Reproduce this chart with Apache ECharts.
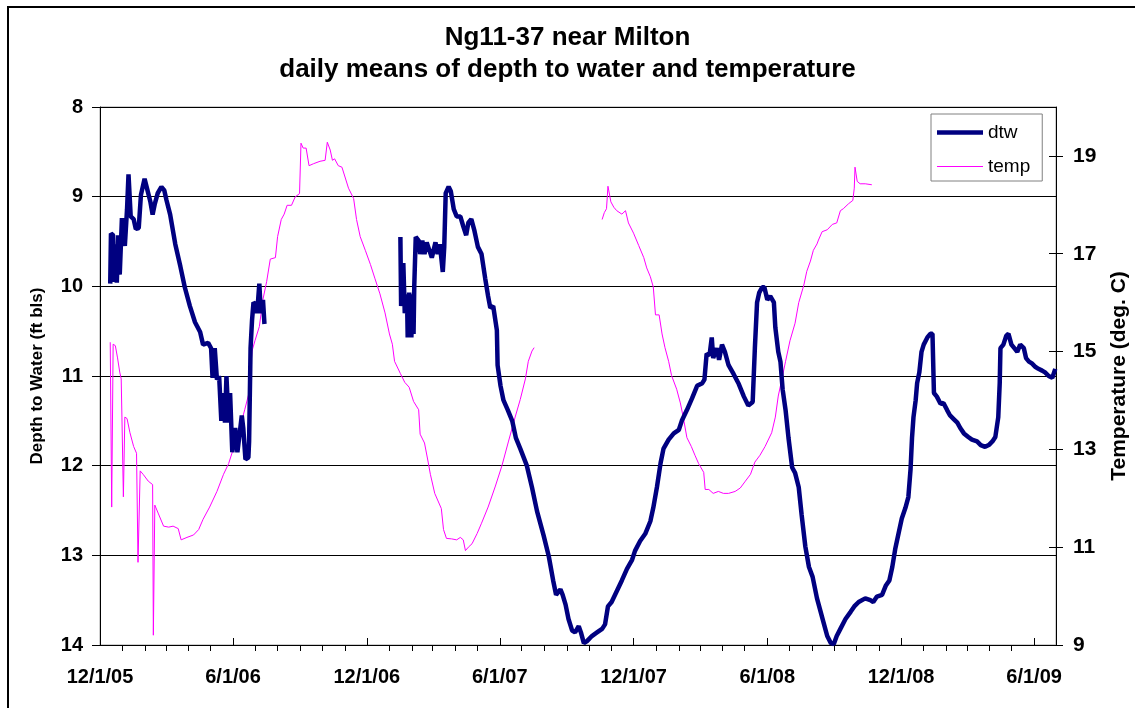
<!DOCTYPE html>
<html>
<head>
<meta charset="utf-8">
<title>Ng11-37 near Milton</title>
<script src="https://cdn.jsdelivr.net/npm/echarts@6/dist/echarts.min.js"></script>
<style>
    html, body { margin: 0; padding: 0; background: #fff; overflow: hidden; }
    #frame { position: absolute; left: 7px; top: 6px; width: 1300px; height: 900px; border-left: 2px solid #000; border-top: 2px solid #000; }
    #chart { position: absolute; left: 0; top: 0; width: 1135px; height: 708px; }
</style>
</head>
<body>
<div id="frame"></div>
<div id="chart"></div>
<script>
// depth to water (ft bls), daily means; '-' = no record
var dtwData = [
    ['2005-12-15', 9.97], ['2005-12-16', 9.41], ['2005-12-19', 9.43], ['2005-12-20', 9.95], ['2005-12-23', 9.53],
    ['2005-12-24', 9.96], ['2005-12-26', 9.43], ['2005-12-28', 9.87], ['2005-12-31', 9.24],
    ['2006-01-02', 9.22], ['2006-01-04', 9.55], ['2006-01-07', 9.14], ['2006-01-09', 8.75], ['2006-01-11', 8.77],
    ['2006-01-12', 9.22], ['2006-01-16', 9.25], ['2006-01-19', 9.36], ['2006-01-23', 9.35], ['2006-01-26', 8.98],
    ['2006-01-31', 8.80], ['2006-02-04', 8.93], ['2006-02-08', 9.06], ['2006-02-11', 9.20], ['2006-02-14', 9.08],
    ['2006-02-18', 8.96], ['2006-02-23', 8.89], ['2006-02-27', 8.93], ['2006-03-02', 9.04], ['2006-03-07', 9.20],
    ['2006-03-14', 9.53], ['2006-03-21', 9.78], ['2006-03-27', 10.01], ['2006-04-03', 10.22], ['2006-04-10', 10.40],
    ['2006-04-17', 10.51], ['2006-04-21', 10.65], ['2006-04-28', 10.63], ['2006-05-02', 10.69], ['2006-05-04', 11.02],
    ['2006-05-07', 10.69], ['2006-05-10', 11.04], ['2006-05-13', 11.00], ['2006-05-16', 11.50], ['2006-05-18', 11.19],
    ['2006-05-21', 11.52], ['2006-05-23', 11.00], ['2006-05-26', 11.52], ['2006-05-28', 11.19], ['2006-05-31', 11.85],
    ['2006-06-04', 11.58], ['2006-06-07', 11.85], ['2006-06-11', 11.58], ['2006-06-13', 11.44], ['2006-06-15', 11.58],
    ['2006-06-18', 11.93], ['2006-06-22', 11.91], ['2006-06-23', 11.73], ['2006-06-25', 10.69], ['2006-06-27', 10.38],
    ['2006-06-29', 10.18], ['2006-07-02', 10.20], ['2006-07-04', 10.30], ['2006-07-07', 9.97], ['2006-07-09', 10.30],
    ['2006-07-12', 10.15], ['2006-07-14', 10.42],
    ['2006-10-01', '-'],
    ['2007-01-16', 9.45], ['2007-01-17', 10.22], ['2007-01-20', 9.74], ['2007-01-22', 10.30], ['2007-01-25', 10.09],
    ['2007-01-26', 10.57], ['2007-01-28', 10.07], ['2007-01-31', 10.57], ['2007-02-02', 10.09], ['2007-02-03', 10.53],
    ['2007-02-04', 9.99], ['2007-02-06', 9.45], ['2007-02-10', 9.49], ['2007-02-12', 9.64], ['2007-02-15', 9.49],
    ['2007-02-18', 9.64], ['2007-02-21', 9.51], ['2007-02-28', 9.68], ['2007-03-05', 9.51], ['2007-03-08', 9.64],
    ['2007-03-11', 9.53], ['2007-03-15', 9.84], ['2007-03-17', 9.56], ['2007-03-19', 8.96], ['2007-03-23', 8.89],
    ['2007-03-26', 8.94], ['2007-03-30', 9.14], ['2007-04-03', 9.22], ['2007-04-08', 9.22], ['2007-04-12', 9.33],
    ['2007-04-16', 9.43], ['2007-04-19', 9.29], ['2007-04-23', 9.25], ['2007-04-27', 9.37], ['2007-05-02', 9.56],
    ['2007-05-07', 9.64], ['2007-05-12', 9.91], ['2007-05-16', 10.11], ['2007-05-19', 10.24], ['2007-05-23', 10.22],
    ['2007-05-28', 10.49], ['2007-05-29', 10.88], ['2007-06-02', 11.11], ['2007-06-06', 11.27], ['2007-06-12', 11.38],
    ['2007-06-18', 11.50], ['2007-06-23', 11.69], ['2007-06-29', 11.81], ['2007-07-08', 12.00], ['2007-07-15', 12.24],
    ['2007-07-22', 12.51], ['2007-07-31', 12.78], ['2007-08-07', 13.01], ['2007-08-13', 13.28], ['2007-08-17', 13.44],
    ['2007-08-23', 13.38], ['2007-08-26', 13.44], ['2007-08-30', 13.55], ['2007-09-03', 13.71], ['2007-09-08', 13.84],
    ['2007-09-12', 13.86], ['2007-09-17', 13.79], ['2007-09-20', 13.86], ['2007-09-24', 13.98], ['2007-09-28', 13.96],
    ['2007-10-05', 13.90], ['2007-10-12', 13.86], ['2007-10-19', 13.82], ['2007-10-23', 13.77], ['2007-10-27', 13.57],
    ['2007-11-01', 13.52], ['2007-11-08', 13.40], ['2007-11-15', 13.28], ['2007-11-22', 13.15], ['2007-11-29', 13.05],
    ['2007-12-03', 12.95], ['2007-12-10', 12.84], ['2007-12-17', 12.76], ['2007-12-24', 12.62], ['2007-12-28', 12.47],
    ['2008-01-02', 12.24], ['2008-01-07', 11.97], ['2008-01-11', 11.81], ['2008-01-18', 11.71], ['2008-01-25', 11.64],
    ['2008-02-01', 11.60], ['2008-02-05', 11.50], ['2008-02-12', 11.38], ['2008-02-19', 11.25], ['2008-02-26', 11.11],
    ['2008-03-04', 11.08], ['2008-03-07', 11.04], ['2008-03-10', 10.75], ['2008-03-14', 10.77], ['2008-03-17', 10.57],
    ['2008-03-19', 10.80], ['2008-03-24', 10.69], ['2008-03-27', 10.82], ['2008-03-31', 10.65], ['2008-04-04', 10.73],
    ['2008-04-09', 10.88], ['2008-04-16', 10.98], ['2008-04-23', 11.09], ['2008-04-30', 11.23], ['2008-05-06', 11.33],
    ['2008-05-12', 11.29], ['2008-05-15', 10.69], ['2008-05-18', 10.18], ['2008-05-21', 10.07], ['2008-05-25', 10.01],
    ['2008-05-28', 10.01], ['2008-06-01', 10.15], ['2008-06-05', 10.11], ['2008-06-10', 10.18], ['2008-06-12', 10.46],
    ['2008-06-16', 10.73], ['2008-06-19', 10.84], ['2008-06-22', 11.15], ['2008-06-26', 11.38], ['2008-06-30', 11.69],
    ['2008-07-05', 12.02], ['2008-07-09', 12.08], ['2008-07-14', 12.24], ['2008-07-18', 12.55], ['2008-07-23', 12.90],
    ['2008-07-28', 13.13], ['2008-08-02', 13.24], ['2008-08-08', 13.48], ['2008-08-12', 13.60], ['2008-08-17', 13.75],
    ['2008-08-22', 13.90], ['2008-08-27', 13.98], ['2008-08-31', 13.99], ['2008-09-04', 13.90], ['2008-09-09', 13.82],
    ['2008-09-16', 13.71], ['2008-09-23', 13.63], ['2008-09-28', 13.57], ['2008-10-04', 13.52], ['2008-10-13', 13.48],
    ['2008-10-20', 13.50], ['2008-10-24', 13.52], ['2008-10-29', 13.46], ['2008-11-05', 13.44], ['2008-11-10', 13.34],
    ['2008-11-15', 13.28], ['2008-11-19', 13.13], ['2008-11-23', 12.93], ['2008-11-28', 12.74], ['2008-12-02', 12.59],
    ['2008-12-07', 12.47], ['2008-12-11', 12.35], ['2008-12-14', 12.04], ['2008-12-16', 11.69], ['2008-12-18', 11.46],
    ['2008-12-21', 11.27], ['2008-12-23', 11.08], ['2008-12-26', 10.96], ['2008-12-29', 10.73], ['2009-01-01', 10.65],
    ['2009-01-06', 10.57], ['2009-01-10', 10.53], ['2009-01-13', 10.53], ['2009-01-15', 11.19], ['2009-01-19', 11.23],
    ['2009-01-24', 11.31], ['2009-01-28', 11.30], ['2009-02-02', 11.38], ['2009-02-06', 11.44], ['2009-02-11', 11.48],
    ['2009-02-16', 11.52], ['2009-02-20', 11.58], ['2009-02-25', 11.64], ['2009-03-03', 11.68], ['2009-03-08', 11.71],
    ['2009-03-15', 11.73], ['2009-03-20', 11.77], ['2009-03-26', 11.79], ['2009-03-31', 11.77], ['2009-04-05', 11.73],
    ['2009-04-09', 11.68], ['2009-04-13', 11.46], ['2009-04-15', 11.08], ['2009-04-16', 10.69], ['2009-04-20', 10.65],
    ['2009-04-24', 10.55], ['2009-04-27', 10.53], ['2009-05-01', 10.65], ['2009-05-05', 10.69], ['2009-05-09', 10.73],
    ['2009-05-13', 10.65], ['2009-05-18', 10.69], ['2009-05-21', 10.80], ['2009-05-25', 10.84], ['2009-05-29', 10.86],
    ['2009-06-03', 10.90], ['2009-06-07', 10.92], ['2009-06-12', 10.94], ['2009-06-16', 10.96], ['2009-06-21', 11.00],
    ['2009-06-26', 11.02], ['2009-06-30', 10.92]
];
// water temperature (deg. C), daily means
var tempData = [
    ['2005-12-15', 15.19], ['2005-12-17', 11.82], ['2005-12-19', 15.15], ['2005-12-22', 15.12], ['2005-12-25', 14.87],
    ['2005-12-28', 14.58], ['2005-12-30', 14.44], ['2005-12-31', 13.66], ['2006-01-02', 12.03], ['2006-01-04', 13.66],
    ['2006-01-07', 13.63], ['2006-01-11', 13.34], ['2006-01-16', 13.06], ['2006-01-20', 12.92], ['2006-01-22', 10.69],
    ['2006-01-25', 12.56], ['2006-01-29', 12.49], ['2006-02-05', 12.35], ['2006-02-11', 12.28], ['2006-02-12', 9.20],
    ['2006-02-14', 11.86], ['2006-02-19', 11.68], ['2006-02-26', 11.43], ['2006-03-05', 11.41], ['2006-03-11', 11.43],
    ['2006-03-18', 11.38], ['2006-03-22', 11.15], ['2006-03-30', 11.20], ['2006-04-08', 11.25], ['2006-04-15', 11.36],
    ['2006-04-21', 11.57], ['2006-04-30', 11.82], ['2006-05-10', 12.14], ['2006-05-19', 12.49], ['2006-05-26', 12.71],
    ['2006-06-01', 12.99], ['2006-06-08', 13.31], ['2006-06-17', 13.81], ['2006-06-23', 14.16], ['2006-06-27', 15.01],
    ['2006-07-01', 15.22], ['2006-07-07', 15.51], ['2006-07-12', 16.07], ['2006-07-17', 16.43], ['2006-07-22', 16.89],
    ['2006-07-29', 16.92], ['2006-08-01', 17.35], ['2006-08-06', 17.70], ['2006-08-10', 17.81], ['2006-08-14', 17.99],
    ['2006-08-20', 17.99], ['2006-08-25', 18.16], ['2006-08-31', 18.23], ['2006-09-02', 19.26], ['2006-09-05', 19.16],
    ['2006-09-09', 19.16], ['2006-09-13', 18.80], ['2006-09-19', 18.84], ['2006-09-28', 18.89], ['2006-10-05', 18.91],
    ['2006-10-08', 19.28], ['2006-10-12', 19.12], ['2006-10-15', 18.91], ['2006-10-18', 18.94], ['2006-10-23', 18.80],
    ['2006-10-28', 18.77], ['2006-11-06', 18.34], ['2006-11-13', 18.13], ['2006-11-17', 17.70], ['2006-11-22', 17.35],
    ['2006-11-29', 17.07], ['2006-12-06', 16.78], ['2006-12-12', 16.50], ['2006-12-19', 16.18], ['2006-12-26', 15.79],
    ['2007-01-01', 15.36], ['2007-01-05', 15.15], ['2007-01-08', 14.80], ['2007-01-16', 14.55], ['2007-01-22', 14.37],
    ['2007-01-28', 14.27], ['2007-02-03', 13.98], ['2007-02-10', 13.81], ['2007-02-12', 13.31], ['2007-02-18', 13.13],
    ['2007-02-23', 12.74], ['2007-02-26', 12.49], ['2007-03-04', 12.10], ['2007-03-13', 11.79], ['2007-03-16', 11.36],
    ['2007-03-20', 11.18], ['2007-03-27', 11.17], ['2007-04-03', 11.15], ['2007-04-08', 11.20], ['2007-04-12', 11.15],
    ['2007-04-15', 10.93], ['2007-04-19', 11.00], ['2007-04-24', 11.07], ['2007-05-01', 11.28], ['2007-05-07', 11.49],
    ['2007-05-16', 11.82], ['2007-05-26', 12.25], ['2007-06-04', 12.67], ['2007-06-13', 13.17], ['2007-06-22', 13.66],
    ['2007-06-29', 14.02], ['2007-07-06', 14.44], ['2007-07-10', 14.80], ['2007-07-15', 15.01], ['2007-07-18', 15.08],
    ['2007-09-01', '-'],
    ['2007-10-19', 17.70], ['2007-10-22', 17.84], ['2007-10-25', 17.92], ['2007-10-27', 18.38], ['2007-10-29', 18.38],
    ['2007-10-31', 18.06], ['2007-11-04', 17.95], ['2007-11-08', 17.88], ['2007-11-15', 17.81], ['2007-11-20', 17.88],
    ['2007-11-24', 17.63], ['2007-12-01', 17.42], ['2007-12-08', 17.17], ['2007-12-15', 16.92], ['2007-12-19', 16.71],
    ['2007-12-24', 16.53], ['2007-12-28', 16.32], ['2007-12-31', 15.75], ['2008-01-05', 15.75], ['2008-01-09', 15.36],
    ['2008-01-13', 15.08], ['2008-01-18', 14.80], ['2008-01-22', 14.51], ['2008-01-29', 14.23], ['2008-02-03', 13.95],
    ['2008-02-07', 13.66], ['2008-02-12', 13.24], ['2008-02-18', 13.06], ['2008-02-23', 12.88], ['2008-02-28', 12.71],
    ['2008-03-06', 12.53], ['2008-03-08', 12.18], ['2008-03-13', 12.18], ['2008-03-19', 12.10], ['2008-03-26', 12.14],
    ['2008-04-02', 12.10], ['2008-04-09', 12.10], ['2008-04-18', 12.14], ['2008-04-25', 12.21], ['2008-05-02', 12.35],
    ['2008-05-09', 12.49], ['2008-05-15', 12.74], ['2008-05-22', 12.88], ['2008-05-29', 13.06], ['2008-06-07', 13.34],
    ['2008-06-12', 13.66], ['2008-06-16', 14.09], ['2008-06-21', 14.44], ['2008-06-26', 14.80], ['2008-07-02', 15.22],
    ['2008-07-09', 15.58], ['2008-07-14', 16.00], ['2008-07-21', 16.36], ['2008-07-25', 16.64], ['2008-07-30', 16.85],
    ['2008-08-03', 17.07], ['2008-08-08', 17.20], ['2008-08-10', 17.28], ['2008-08-15', 17.45], ['2008-08-22', 17.49],
    ['2008-08-29', 17.60], ['2008-09-04', 17.63], ['2008-09-09', 17.88], ['2008-09-13', 17.92], ['2008-09-20', 18.02],
    ['2008-09-26', 18.09], ['2008-09-28', 18.34], ['2008-09-29', 18.77], ['2008-10-02', 18.48], ['2008-10-06', 18.43],
    ['2008-10-13', 18.43], ['2008-10-22', 18.41]
];
// x axis: labelled dates (every six months) and the monthly minor ticks between them
var majorDates = ['2005-12-01', '2006-06-01', '2006-12-01', '2007-06-01', '2007-12-01', '2008-06-01', '2008-12-01', '2009-06-01'];
var minorDates = [
    '2006-01-01', '2006-02-01', '2006-03-01', '2006-04-01', '2006-05-01', '2006-07-01', '2006-08-01', '2006-09-01',
    '2006-10-01', '2006-11-01', '2007-01-01', '2007-02-01', '2007-03-01', '2007-04-01', '2007-05-01', '2007-07-01',
    '2007-08-01', '2007-09-01', '2007-10-01', '2007-11-01', '2008-01-01', '2008-02-01', '2008-03-01', '2008-04-01',
    '2008-05-01', '2008-07-01', '2008-08-01', '2008-09-01', '2008-10-01', '2008-11-01', '2009-01-01', '2009-02-01',
    '2009-03-01', '2009-04-01', '2009-05-01'
];
var xStart = '2005-12-01';
var xEnd = '2009-07-01';
// temperature axis labels
var tempTicks = [9, 11, 13, 15, 17, 19];

var font = 'Liberation Sans, Arial, sans-serif';

// yyyy-mm-dd -> ms (UTC), used as the x value
function toTime(s) {
    var p = s.split('-');
    return Date.UTC(+p[0], +p[1] - 1, +p[2]);
}
function toPoints(list) {
    var out = [];
    for (var i = 0; i < list.length; i++) {
        out.push([toTime(list[i][0]), list[i][1]]);
    }
    return out;
}
function dateLabel(val) {
    var d = new Date(val);
    return (d.getUTCMonth() + 1) + '/' + d.getUTCDate() + '/' + String(d.getUTCFullYear()).slice(2);
}

var chart = echarts.init(document.getElementById('chart'), null, {renderer: 'canvas'});
var option = {
    animation: false,
    backgroundColor: 'transparent',
    textStyle: {fontFamily: font},
    title: {
        text: 'Ng11-37 near Milton\ndaily means of depth to water and temperature',
        left: 'center',
        top: 17,
        textStyle: {fontFamily: font, fontSize: 26, fontWeight: 'bold', color: '#000', lineHeight: 32}
    },
    legend: {
        orient: 'vertical',
        left: 931,
        top: 114,
        padding: [9, 12, 5, 6],
        itemWidth: 46,
        itemHeight: 14,
        itemGap: 15,
        backgroundColor: '#fff',
        borderColor: '#808080',
        borderWidth: 1,
        textStyle: {fontFamily: font, fontSize: 19, color: '#000'},
        // plain line keys, thick for dtw and thin for temp
        data: [
            {name: 'dtw', icon: 'path://M0,0 L46,0 L46,4.5 L0,4.5 Z'},
            {name: 'temp', icon: 'path://M0,0 L46,0 L46,1 L0,1 Z'}
        ]
    },
    grid: {
        left: 100,
        right: 79,
        top: 107,
        bottom: 63,
        // keep the plot box fixed; the axis titles may sit near the page edge
        outerBoundsMode: 'none',
        show: true,
        borderColor: '#a0a0a0',
        borderWidth: 1,
        backgroundColor: '#fff'
    },
    xAxis: [
        {
            // day axis in ms; labelled every six months
            type: 'value',
            position: 'bottom',
            min: toTime(xStart),
            max: toTime(xEnd),
            axisLine: {show: true, lineStyle: {color: '#000', width: 1}},
            axisTick: {show: true, inside: true, length: 7, lineStyle: {color: '#000'},
                customValues: majorDates.map(toTime)},
            axisLabel: {show: true, margin: 22, fontFamily: font, fontSize: 20, fontWeight: 'bold', color: '#000',
                customValues: majorDates.map(toTime), formatter: dateLabel},
            splitLine: {show: false}
        },
        {
            // monthly minor ticks
            type: 'value',
            position: 'bottom',
            min: toTime(xStart),
            max: toTime(xEnd),
            axisLine: {show: false},
            axisTick: {show: true, inside: false, length: 6, lineStyle: {color: '#000'},
                customValues: minorDates.map(toTime)},
            axisLabel: {show: false},
            splitLine: {show: false}
        }
    ],
    yAxis: [
        {
            type: 'value',
            position: 'left',
            inverse: true,
            min: 8,
            max: 14,
            interval: 1,
            name: 'Depth to Water (ft bls)',
            nameLocation: 'middle',
            nameRotate: 90,
            nameGap: 54,
            nameTextStyle: {fontFamily: font, fontSize: 17, fontWeight: 'bold', color: '#000'},
            axisLine: {show: true, lineStyle: {color: '#000', width: 1}},
            axisTick: {show: true, inside: false, length: 8, lineStyle: {color: '#000'}},
            axisLabel: {margin: 17, fontFamily: font, fontSize: 20, fontWeight: 'bold', color: '#000'},
            splitLine: {show: true, lineStyle: {color: '#000', width: 1}}
        },
        {
            type: 'value',
            position: 'right',
            min: 9,
            max: 20,
            name: 'Temperature (deg. C)',
            nameLocation: 'middle',
            nameRotate: 90,
            nameGap: 53,
            nameTextStyle: {fontFamily: font, fontSize: 21, fontWeight: 'bold', color: '#000'},
            axisLine: {show: true, lineStyle: {color: '#000', width: 1}},
            axisTick: {show: true, inside: false, length: 7, lineStyle: {color: '#000'}, customValues: tempTicks},
            axisLabel: {margin: 17, fontFamily: font, fontSize: 21, fontWeight: 'bold', color: '#000', customValues: tempTicks},
            splitLine: {show: false}
        },
        {
            // inner half of the crossing ticks on the temperature axis
            type: 'value',
            position: 'right',
            min: 9,
            max: 20,
            axisLine: {show: false},
            axisTick: {show: true, inside: true, length: 7, lineStyle: {color: '#000'}, customValues: tempTicks},
            axisLabel: {show: false},
            splitLine: {show: false}
        }
    ],
    series: [
        {
            name: 'dtw',
            type: 'line',
            xAxisIndex: 0,
            yAxisIndex: 0,
            symbol: 'none',
            connectNulls: false,
            lineStyle: {color: '#000080', width: 4.5},
            itemStyle: {color: '#000080'},
            z: 3,
            data: toPoints(dtwData)
        },
        {
            name: 'temp',
            type: 'line',
            xAxisIndex: 0,
            yAxisIndex: 1,
            symbol: 'none',
            connectNulls: false,
            lineStyle: {color: '#ff00ff', width: 1},
            itemStyle: {color: '#ff00ff'},
            z: 2,
            data: toPoints(tempData)
        }
    ]
};
chart.setOption(option);
</script>
</body>
</html>
